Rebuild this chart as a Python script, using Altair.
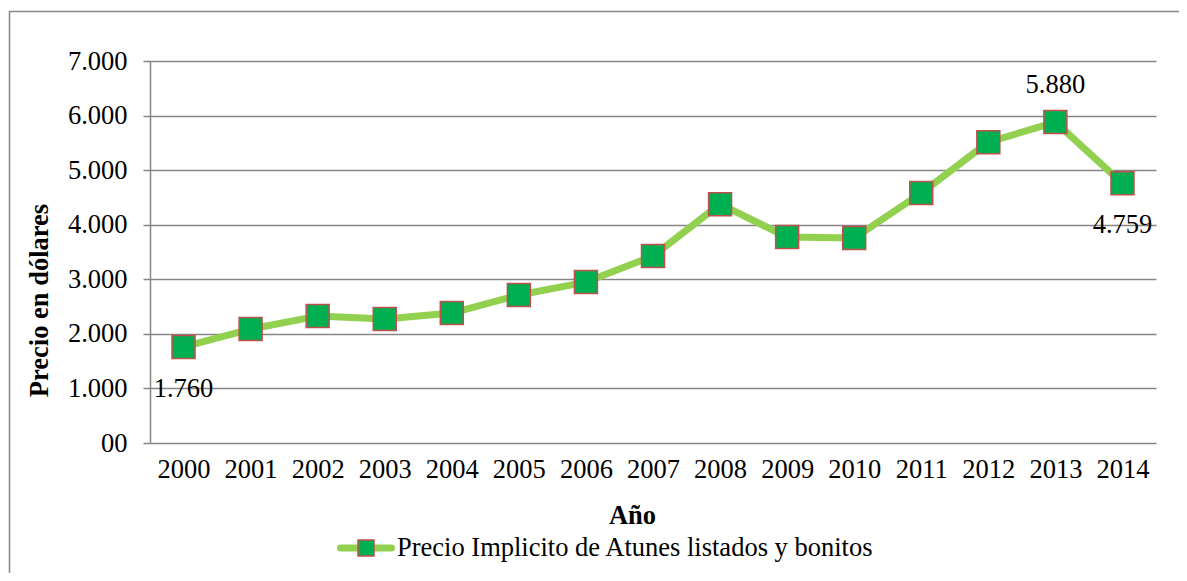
import altair as alt
import pandas as pd

# ---- data ----
years = [str(y) for y in range(2000, 2015)]
values = [1760, 2088, 2326, 2271, 2381, 2711, 2949, 3425, 4377, 3773, 3755, 4579, 5513, 5880, 4759]
series_name = "Precio Implicito de Atunes listados y bonitos"
y_ticks = [0, 1000, 2000, 3000, 4000, 5000, 6000, 7000]
labels_below = ["2000", "2014"]
labels_above = ["2013"]

df = pd.DataFrame({"year": years, "value": values})
legend_df = pd.DataFrame({"series": [series_name]})
frame_df = pd.DataFrame({"k": [0]})

FONT = "Liberation Serif"
FS = 26.5
LINE_C = "#92D050"
FILL_C = "#00B050"
EDGE_C = "#C0504D"
GRID_C = "#868686"

W, H = 1006, 382

label_expr = "replace(format(datum.value, ','), ',', '.')"

x_enc = alt.X(
    "year:O",
    scale=alt.Scale(type="point", padding=0.5),
    axis=alt.Axis(
        title="Año", labelAngle=0, ticks=False, tickSize=0, domain=False, grid=False,
        labelPadding=13, labelFont=FONT, labelFontSize=FS, labelColor="black",
        titleFont=FONT, titleFontSize=FS, titleFontWeight="bold", titleColor="black",
        titleX=482, titleY=72, titleBaseline="middle", titleAlign="center",
    ),
)
y_enc = alt.Y(
    "value:Q",
    scale=alt.Scale(domain=[0, 7000], nice=False),
    axis=alt.Axis(
        values=y_ticks, title="Precio en dólares", grid=True, gridColor=GRID_C, gridWidth=1.5,
        domain=True, domainColor=GRID_C, domainWidth=1.5, ticks=True, tickColor=GRID_C,
        tickWidth=1.5, tickSize=7, labelPadding=16,
        labelExpr="datum.value == 0 ? '00' : replace(format(datum.value, ','), ',', '.')",
        labelFont=FONT, labelFontSize=FS, labelColor="black",
        titleFont=FONT, titleFontSize=FS, titleFontWeight="bold", titleColor="black",
        titleX=-111, titleY=239, titleBaseline="middle", titleAlign="center", titleAngle=-90,
    ),
)

base = alt.Chart(df).encode(x=x_enc, y=y_enc)

line = base.mark_line(color=LINE_C, strokeWidth=7, strokeJoin="round", strokeCap="round")
points = base.mark_square(size=529, color=FILL_C, stroke=EDGE_C, strokeWidth=1.5, opacity=1)

lbl_below = (
    base.transform_filter(alt.FieldOneOfPredicate(field="year", oneOf=labels_below))
    .transform_calculate(label=label_expr.replace("datum.value", "datum.value"))
    .mark_text(dy=42, font=FONT, fontSize=FS, color="black", baseline="middle")
    .encode(text="label:N")
)
lbl_above = (
    base.transform_filter(alt.FieldOneOfPredicate(field="year", oneOf=labels_above))
    .transform_calculate(label=label_expr)
    .mark_text(dy=-37, font=FONT, fontSize=FS, color="black", baseline="middle")
    .encode(text="label:N")
)

# legend (line + square marker + label), below the axis title
leg_y = 487
leg_line = alt.Chart(legend_df).mark_rule(color=LINE_C, strokeWidth=7, strokeCap="round").encode(
    x=alt.value(190.5), x2=alt.value(241.5), y=alt.value(leg_y)
)
leg_sq = alt.Chart(legend_df).mark_square(size=256, color=FILL_C, stroke=EDGE_C, strokeWidth=1.5, opacity=1).encode(
    x=alt.value(216), y=alt.value(leg_y)
)
leg_txt = alt.Chart(legend_df).mark_text(
    align="left", baseline="middle", font=FONT, fontSize=FS, color="black"
).encode(text="series:N", x=alt.value(247), y=alt.value(leg_y))

frame = alt.Chart(frame_df).mark_rect(fillOpacity=0, stroke="#878787", strokeWidth=1.5).encode(
    x=alt.value(-140.5), x2=alt.value(1045), y=alt.value(-49.5), y2=alt.value(535)
)

chart = (
    alt.layer(frame, line, points, lbl_below, lbl_above, leg_line, leg_sq, leg_txt)
    .properties(
        width=W, height=H,
        padding={"left": 142, "top": 53, "right": 23, "bottom": 130},
        autosize=alt.AutoSizeParams(type="none"),
        background="white",
    )
    .configure_view(stroke=None)
)

chart.save("out.html", embed_options={"renderer": "svg", "actions": False})
